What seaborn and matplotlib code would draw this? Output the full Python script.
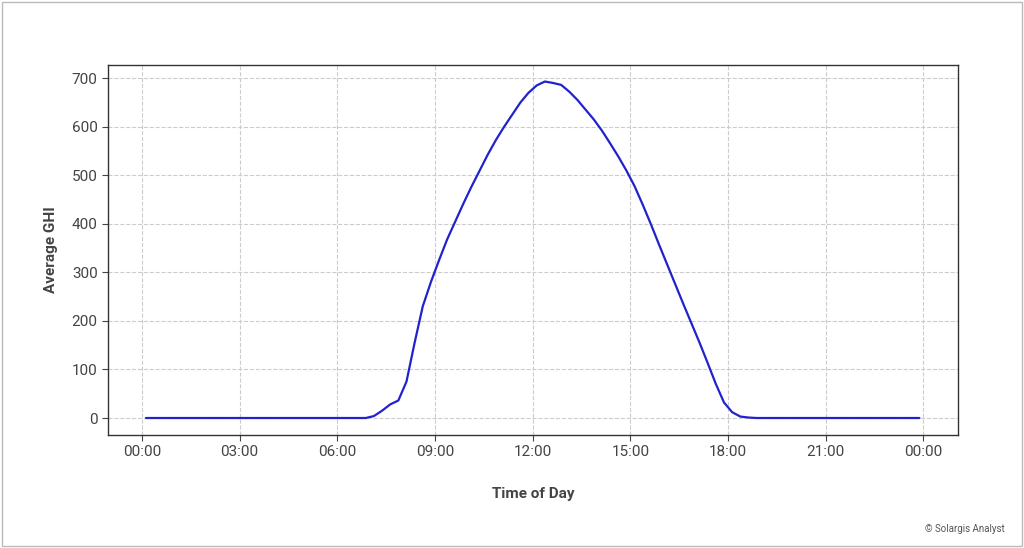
import numpy as np
import pandas as pd
import matplotlib.pyplot as plt
import seaborn as sns
from matplotlib.patches import Rectangle

# Average GHI profile, 15-minute steps (hours from midnight)
day_hours = [7.125 + 0.25 * i for i in range(47)]
day_ghi = [4, 15, 28, 36, 75, 155, 230, 280, 325, 368, 405, 442, 477, 510, 543, 573,
           600, 625, 650, 670, 685, 693, 690, 686, 672, 655, 635, 615, 592, 566, 539,
           510, 478, 440, 400, 358, 317, 276, 235, 195, 155, 113, 70, 32, 12, 3, 1]
night_am = [0.125 + 0.25 * i for i in range(28)]
night_pm = [18.875 + 0.25 * i for i in range(21)]

hours = night_am + day_hours + night_pm
ghi = [0] * len(night_am) + day_ghi + [0] * len(night_pm)
df = pd.DataFrame({'hour': hours, 'ghi': ghi})

tick_pos = [0, 3, 6, 9, 12, 15, 18, 21, 24]
tick_labels = ['00:00', '03:00', '06:00', '09:00', '12:00', '15:00', '18:00', '21:00', '00:00']

sns.set_style("white")
plt.rcParams['font.family'] = ['Roboto', 'DejaVu Sans']

fig = plt.figure(figsize=(10.24, 5.48), dpi=100)
ax = fig.add_axes([108 / 1024, 1 - 435 / 548, 850 / 1024, 370 / 548])
sns.lineplot(data=df, x='hour', y='ghi', color='#2222cc', linewidth=1.6, ax=ax)

ax.set_xlim(-1.04, 25.06)
ax.set_ylim(-35, 727)
ax.set_xticks(tick_pos)
ax.set_xticklabels(tick_labels)
ax.set_yticks(range(0, 701, 100))
ax.grid(True, linestyle='--', color='#cccccc', linewidth=0.8)
for s in ax.spines.values():
    s.set_color('#333333')
    s.set_linewidth(1)
ax.tick_params(axis='both', labelsize=11, colors='#444444', length=4, direction='out',
               bottom=True, left=True)
ax.set_xlabel('Time of Day', fontsize=11, fontweight='bold', color='#444444', labelpad=20)
ax.set_ylabel('Average GHI', fontsize=11, fontweight='bold', color='#444444', labelpad=10)

fig.text(1005 / 1024, 1 - 529 / 548, '© Solargis Analyst', ha='right', va='center',
         fontsize=7, color='#555555')
fig.patches.append(Rectangle((0.002, 0.003), 0.996, 0.994, transform=fig.transFigure,
                             fill=False, edgecolor='#bbbbbb', linewidth=1))

fig.savefig('out.png', dpi=100)
